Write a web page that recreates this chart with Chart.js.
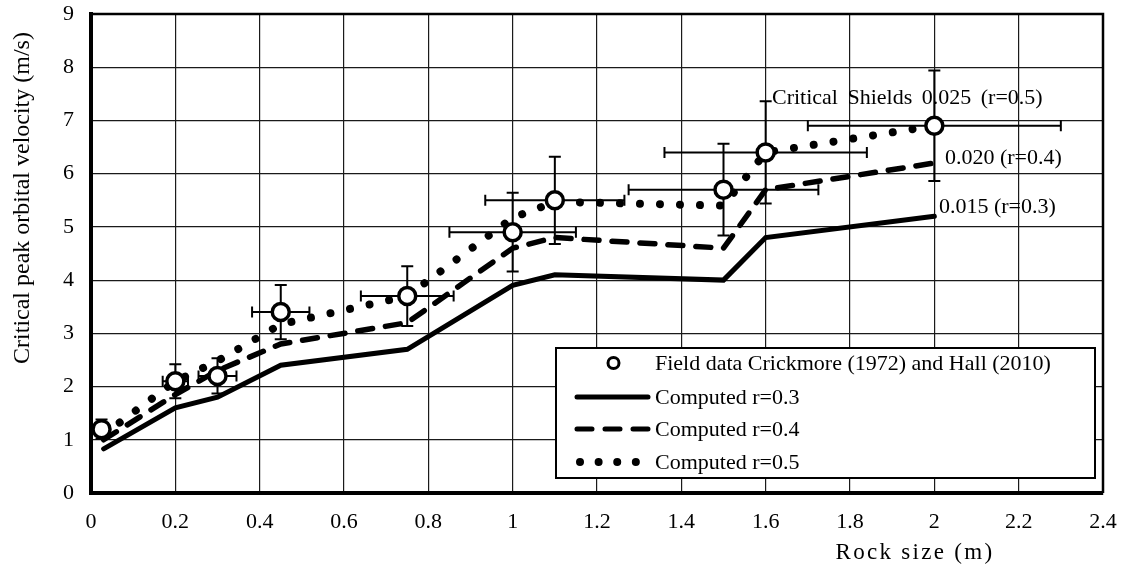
<!DOCTYPE html>
<html><head><meta charset="utf-8">
<script src="https://cdn.jsdelivr.net/npm/chart.js@4.4.1/dist/chart.umd.min.js"></script>
<style>html,body{margin:0;padding:0;background:#fff}#wrap{width:1126px;height:569px;position:relative}</style>
</head><body><div id="wrap"><canvas id="c"></canvas></div>
<script>
const FONT = '"Liberation Serif", "Times New Roman", serif';

// Field data (Crickmore 1972, Hall 2010)
const rockSize      = [0.025, 0.2, 0.3, 0.45, 0.75, 1.0, 1.1, 1.5, 1.6, 2.0];
const fieldVelocity = [1.2, 2.1, 2.2, 3.4, 3.7, 4.9, 5.5, 5.7, 6.4, 6.9];
const velocityErr   = [0.18, 0.32, 0.33, 0.51, 0.56, 0.74, 0.82, 0.86, 0.96, 1.04];
const sizeErr       = [0.004, 0.03, 0.045, 0.068, 0.11, 0.15, 0.165, 0.225, 0.24, 0.3];

// Computed curves
const computedSize = [0.03, 0.2, 0.3, 0.45, 0.75, 1.0, 1.1, 1.5, 1.6, 2.0];
const computedR03  = [0.83, 1.6, 1.8, 2.4, 2.7, 3.9, 4.1, 4.0, 4.8, 5.2];
const computedR04  = [1.0, 1.85, 2.3, 2.8, 3.2, 4.6, 4.8, 4.6, 5.7, 6.2];
const computedR05  = [1.1, 2.1, 2.48, 3.17, 3.7, 5.17, 5.47, 5.4, 6.4, 6.9];

// Ticks
const xTickValues = [0, 0.2, 0.4, 0.6, 0.8, 1, 1.2, 1.4, 1.6, 1.8, 2, 2.2, 2.4];
const xTickLabels = ['0','0.2','0.4','0.6','0.8','1','1.2','1.4','1.6','1.8','2','2.2','2.4'];
const yTickValues = [0,1,2,3,4,5,6,7,8,9];
const yTickLabels = ['0','1','2','3','4','5','6','7','8','9'];

// Texts
const xTitle = 'Rock size (m)';
const yTitle = 'Critical peak orbital velocity (m/s)';
const legendLabels = ['Field data Crickmore (1972) and Hall (2010)', 'Computed r=0.3', 'Computed r=0.4', 'Computed r=0.5'];
const annotationTexts = ['Critical Shields 0.025 (r=0.5)', '0.020 (r=0.4)', '0.015 (r=0.3)'];
const annotationX = [1.615, 2.025, 2.011];
const annotationY = [7.42, 6.29, 5.37];

const pts = (xs, ys) => xs.map((v, i) => ({x: v, y: ys[i]}));

const errorBars = {
  id: 'errorBars',
  beforeDatasetDraw(chart, args) {
    if (args.index !== 0) return;
    const {ctx, scales: {x, y}} = chart;
    ctx.save();
    ctx.strokeStyle = '#000';
    ctx.lineWidth = 2;
    ctx.lineCap = 'butt';
    rockSize.forEach((s, i) => {
      const v = fieldVelocity[i];
      const px = x.getPixelForValue(s), py = y.getPixelForValue(v);
      const yt = y.getPixelForValue(v + velocityErr[i]), yb = y.getPixelForValue(v - velocityErr[i]);
      const xl = x.getPixelForValue(s - sizeErr[i]), xr = x.getPixelForValue(s + sizeErr[i]);
      const c = 6, ch = 5.5;
      ctx.beginPath();
      ctx.moveTo(px, yb); ctx.lineTo(px, yt);
      ctx.moveTo(px - c, yb); ctx.lineTo(px + c, yb);
      ctx.moveTo(px - c, yt); ctx.lineTo(px + c, yt);
      ctx.moveTo(xl, py); ctx.lineTo(xr, py);
      ctx.moveTo(xl, py - ch); ctx.lineTo(xl, py + ch);
      ctx.moveTo(xr, py - ch); ctx.lineTo(xr, py + ch);
      ctx.stroke();
    });
    ctx.restore();
  }
};

const decor = {
  id: 'decor',
  afterDatasetsDraw(chart) {
    const {ctx, chartArea: ca, scales: {x, y}} = chart;
    ctx.save();
    // frame top/right
    ctx.strokeStyle = '#000';
    ctx.lineWidth = 2.5;
    ctx.beginPath();
    ctx.moveTo(ca.left, ca.top); ctx.lineTo(ca.right, ca.top); ctx.lineTo(ca.right, ca.bottom);
    ctx.stroke();

    // annotations
    ctx.fillStyle = '#000';
    ctx.font = '22px ' + FONT;
    ctx.textBaseline = 'middle';
    ctx.textAlign = 'left';
    annotationTexts.forEach((t, i) => {
      if (i === 0 && 'wordSpacing' in ctx) ctx.wordSpacing = '4px';
      ctx.fillText(t, x.getPixelForValue(annotationX[i]), y.getPixelForValue(annotationY[i]));
      if ('wordSpacing' in ctx) ctx.wordSpacing = '0px';
    });

    // legend
    const bx = ca.right - 547, by = ca.bottom - 145, bw = 539, bh = 130;
    ctx.fillStyle = '#fff';
    ctx.fillRect(bx, by, bw, bh);
    ctx.lineWidth = 2;
    ctx.strokeStyle = '#000';
    ctx.strokeRect(bx, by, bw, bh);
    const rows = [by + 15, by + 49, by + 81, by + 114];
    const sx0 = bx + 21, sx1 = bx + 92;
    // circle
    ctx.beginPath();
    ctx.arc((sx0 + sx1) / 2 + 1, rows[0], 5.5, 0, Math.PI * 2);
    ctx.fillStyle = '#fff'; ctx.fill();
    ctx.lineWidth = 3; ctx.stroke();
    // solid
    ctx.lineWidth = 5; ctx.lineCap = 'round';
    ctx.beginPath(); ctx.moveTo(sx0, rows[1]); ctx.lineTo(sx1, rows[1]); ctx.stroke();
    // dashed
    ctx.setLineDash([15, 13]);
    ctx.beginPath(); ctx.moveTo(sx0, rows[2]); ctx.lineTo(sx1, rows[2]); ctx.stroke();
    // dotted
    ctx.lineWidth = 8;
    ctx.setLineDash([0.01, 18.6]);
    ctx.beginPath(); ctx.moveTo(sx0 + 3, rows[3]); ctx.lineTo(sx1, rows[3]); ctx.stroke();
    ctx.setLineDash([]);
    ctx.fillStyle = '#000';
    ctx.font = '22px ' + FONT;
    ctx.textBaseline = 'middle';
    legendLabels.forEach((t, i) => ctx.fillText(t, bx + 99, rows[i] + 1));

    // axis titles
    ctx.font = '23px ' + FONT;
    ctx.textAlign = 'center';
    if ('letterSpacing' in ctx) ctx.letterSpacing = '2.3px';
    ctx.fillText(xTitle, 915, 553);
    if ('letterSpacing' in ctx) ctx.letterSpacing = '0px';
    ctx.font = '24px ' + FONT;
    ctx.translate(23, 198);
    ctx.rotate(-Math.PI / 2);
    ctx.fillText(yTitle, 0, 0);
    ctx.restore();
  }
};

new Chart(document.getElementById('c'), {
  type: 'scatter',
  data: {
    datasets: [
      {
        label: legendLabels[0],
        data: pts(rockSize, fieldVelocity),
        pointRadius: 8.5, pointBorderWidth: 3.5,
        pointBackgroundColor: '#fff', pointBorderColor: '#000',
        showLine: false, order: 0
      },
      {
        label: legendLabels[3],
        data: pts(computedSize, computedR05),
        showLine: true, pointRadius: 0, borderColor: '#000', borderWidth: 8,
        borderDash: [0.01, 20], borderCapStyle: 'round', order: 1
      },
      {
        label: legendLabels[2],
        data: pts(computedSize, computedR04),
        showLine: true, pointRadius: 0, borderColor: '#000', borderWidth: 5.5,
        borderDash: [15, 13], borderCapStyle: 'round', order: 2
      },
      {
        label: legendLabels[1],
        data: pts(computedSize, computedR03),
        showLine: true, pointRadius: 0, borderColor: '#000', borderWidth: 5,
        borderCapStyle: 'round', borderJoinStyle: 'miter', order: 3
      }
    ]
  },
  options: {
    responsive: true, maintainAspectRatio: false, animation: false,
    devicePixelRatio: 1,
    layout: {padding: {left: 0, top: 14, right: 23, bottom: 0}},
    plugins: {legend: {display: false}, tooltip: {enabled: false}},
    scales: {
      x: {
        type: 'linear', min: 0, max: 2.4,
        afterBuildTicks: s => { s.ticks = xTickValues.map(v => ({value: v})); },
        afterFit: s => { s.height = 76; s.paddingLeft = 0; s.paddingRight = 0; },
        ticks: {
          color: '#000', font: {family: FONT, size: 22}, padding: 16, maxRotation: 0,
          callback: (v) => xTickLabels[xTickValues.findIndex(t => Math.abs(t - v) < 1e-9)]
        },
        grid: {color: '#1a1a1a', lineWidth: 1.2, drawTicks: false},
        border: {display: true, color: '#000', width: 4}
      },
      y: {
        type: 'linear', min: 0, max: 9,
        afterBuildTicks: s => { s.ticks = yTickValues.map(v => ({value: v})); },
        afterFit: s => { s.width = 91; s.paddingTop = 0; s.paddingBottom = 0; },
        ticks: {
          color: '#000', font: {family: FONT, size: 22}, padding: 17,
          callback: (v) => yTickLabels[yTickValues.indexOf(v)]
        },
        grid: {color: '#1a1a1a', lineWidth: 1.2, drawTicks: false},
        border: {display: true, color: '#000', width: 4}
      }
    }
  },
  plugins: [errorBars, decor]
});
</script></body></html>
